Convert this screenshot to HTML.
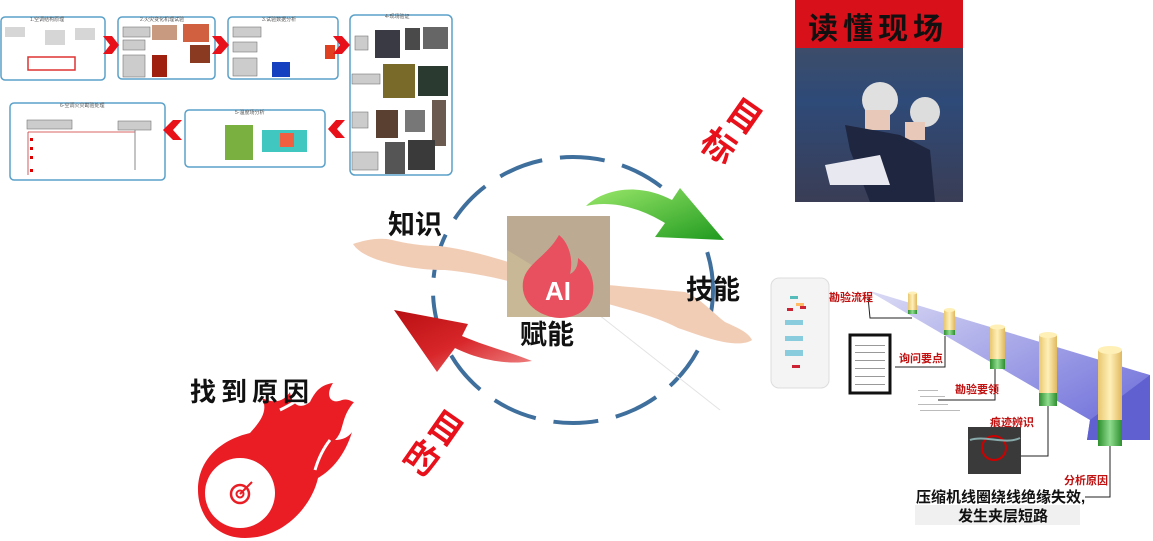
<!DOCTYPE html>
<html><head><meta charset="utf-8"><style>
html,body{margin:0;padding:0;background:#fff;}
body{width:1153px;height:541px;overflow:hidden;position:relative;font-family:"Liberation Sans","Noto Sans CJK SC",sans-serif;}
.t{position:absolute;font-weight:bold;font-family:"Liberation Sans","Noto Sans CJK SC",sans-serif;white-space:nowrap;}
.r{position:absolute;font-weight:bold;font-family:"Liberation Sans","Noto Sans CJK SC",sans-serif;font-size:34px;line-height:34px;width:34px;height:34px;text-align:center;color:#e8101a;transform:rotate(35deg);}
</style></head><body>
<svg width="1153" height="541" viewBox="0 0 1153 541" xmlns="http://www.w3.org/2000/svg" style="position:absolute;left:0;top:0">
<defs>
<linearGradient id="gg" x1="0" y1="0" x2="1" y2="1"><stop offset="0" stop-color="#9be86a"/><stop offset="1" stop-color="#1f9a1f"/></linearGradient>
<linearGradient id="rg" x1="1" y1="1" x2="0" y2="0"><stop offset="0" stop-color="#f08a8a"/><stop offset=".5" stop-color="#d8262a"/><stop offset="1" stop-color="#b80f12"/></linearGradient>
<linearGradient id="pg" x1="0" y1="0" x2="1" y2="1"><stop offset="0" stop-color="#dcdcf5"/><stop offset="1" stop-color="#6464d8"/></linearGradient>
<linearGradient id="cy" x1="0" x2="1"><stop offset="0" stop-color="#e8c770"/><stop offset=".5" stop-color="#fff0b8"/><stop offset="1" stop-color="#e0b860"/></linearGradient>
<linearGradient id="cg" x1="0" x2="1"><stop offset="0" stop-color="#2e8f2e"/><stop offset=".5" stop-color="#8fdc8f"/><stop offset="1" stop-color="#2e8f2e"/></linearGradient>
<linearGradient id="ph" x1="0" y1="0" x2="0" y2="1"><stop offset="0" stop-color="#4a4f5c"/><stop offset=".5" stop-color="#2e4a78"/><stop offset="1" stop-color="#3a3d55"/></linearGradient>
</defs>
<g fill="#fff" stroke="#5aa0c8" stroke-width="1.5">
<rect x="1" y="17" width="104" height="63" rx="4"/>
<rect x="118" y="17" width="97" height="62" rx="4"/>
<rect x="228" y="17" width="110" height="62" rx="4"/>
<rect x="350" y="15" width="102" height="160" rx="5"/>
<rect x="10" y="103" width="155" height="77" rx="4"/>
<rect x="185" y="110" width="140" height="57" rx="4"/>
</g>
<g fill="#555" font-size="5" font-family="Liberation Sans, Noto Sans CJK SC, sans-serif">
<text x="30" y="21">1.空调结构原理</text><text x="140" y="21">2.火灾变化机理试验</text><text x="262" y="21">3.试验数据分析</text>
<text x="385" y="18">4-现场验证</text><text x="60" y="107">6-空调火灾勘验处理</text><text x="235" y="114">5-温度场分析</text>
</g>
<g fill="#ccc" stroke="#777" stroke-width=".6">
<rect x="123" y="27" width="27" height="10"/><rect x="123" y="40" width="22" height="10"/><rect x="123" y="55" width="22" height="22"/>
<rect x="233" y="27" width="28" height="10"/><rect x="233" y="42" width="24" height="10"/><rect x="233" y="58" width="24" height="18"/>
<rect x="355" y="36" width="13" height="14"/><rect x="352" y="74" width="28" height="10"/><rect x="352" y="112" width="16" height="16"/><rect x="352" y="152" width="26" height="18"/>
<rect x="27" y="120" width="45" height="9"/><rect x="118" y="121" width="33" height="9"/>
</g>
<g fill="#4a4a4a">
<rect x="375" y="30" width="25" height="28" fill="#3a3a44"/><rect x="405" y="28" width="15" height="22"/><rect x="423" y="27" width="25" height="22" fill="#666"/>
<rect x="383" y="64" width="32" height="34" fill="#7a6a2a"/><rect x="418" y="66" width="30" height="30" fill="#2a3a30"/>
<rect x="376" y="110" width="22" height="28" fill="#5a4030"/><rect x="405" y="110" width="20" height="22" fill="#777"/><rect x="432" y="100" width="14" height="46" fill="#6a5a50"/>
<rect x="385" y="142" width="20" height="32" fill="#555"/><rect x="408" y="140" width="27" height="30" fill="#3a3a3a"/>
<rect x="152" y="25" width="25" height="15" fill="#c89a80"/><rect x="183" y="24" width="26" height="18" fill="#d06040"/><rect x="190" y="45" width="20" height="18" fill="#8a3a20"/><rect x="152" y="55" width="15" height="22" fill="#a02010"/>
<rect x="272" y="62" width="18" height="15" fill="#1540c0"/><rect x="325" y="45" width="10" height="14" fill="#e04020"/>
<rect x="225" y="125" width="28" height="35" fill="#7ab040"/><rect x="262" y="130" width="45" height="22" fill="#40c8c0"/><rect x="280" y="133" width="14" height="14" fill="#f06040"/>
</g>
<g fill="#d00"><rect x="30" y="138" width="3" height="3"/><rect x="30" y="147" width="3" height="3"/><rect x="30" y="156" width="3" height="3"/><rect x="30" y="169" width="3" height="3"/></g>
<g stroke="#c33" stroke-width=".8"><line x1="28" y1="132" x2="135" y2="132"/><line x1="28" y1="132" x2="28" y2="175"/></g>
<line x1="135" y1="130" x2="135" y2="170" stroke="#888"/>
<g stroke="#d33" stroke-width="1.5" fill="none"><path d="M28 57 H75 V70 H28Z"/></g>
<g fill="#999"><rect x="5" y="27" width="20" height="10" opacity=".4"/><rect x="45" y="30" width="20" height="15" opacity=".4"/><rect x="75" y="28" width="20" height="12" opacity=".4"/></g>
<g fill="#e8111a">
<path d="M103 36 L112 36 L119 45 L112 54 L103 54 L110 45Z"/>
<path d="M212 36 L221 36 L229 45 L221 54 L212 54 L219 45Z"/>
<path d="M333 36 L342 36 L350 45 L342 54 L333 54 L340 45Z"/>
<path d="M345 120 L336 120 L328 129 L336 138 L345 138 L337 129Z"/>
<path d="M182 120 L173 120 L163 130 L173 140 L182 140 L173 130Z"/>
</g>
<ellipse cx="573" cy="290" rx="140" ry="133" fill="none" stroke="#3f6f9c" stroke-width="4" stroke-dasharray="45 18"/>
<path d="M353 244 C365 240 380 237 392 240 C405 243 420 246 440 246 C470 250 495 258 515 264 L512 282 C490 276 465 272 445 270 C420 270 400 266 385 262 C370 258 358 252 353 244Z" fill="#f2cdb6"/>
<path d="M608 285 C640 288 665 290 685 292 C700 298 712 312 725 322 C738 328 748 332 752 340 C745 345 730 344 715 340 C700 336 690 332 678 328 C660 318 630 310 608 304Z" fill="#f2cdb6"/>
<path d="M580 300 L720 410" stroke="#e3e3e3" stroke-width="1"/>
<rect x="507" y="216" width="103" height="101" fill="#bcab92"/>
<path d="M507 250 L540 270 L550 317 L507 317Z" fill="#c9b895"/>
<path d="M559 235 C545 260 520 265 523 290 C526 310 548 318 560 318 C580 318 596 305 593 283 C591 268 583 262 578 258 C578 268 574 272 570 274 C574 258 568 242 559 235Z" fill="#e8505f"/>
<text x="558" y="300" font-size="26" font-weight="bold" fill="#fff" text-anchor="middle" font-family="Liberation Sans, sans-serif">AI</text>
<path d="M586 206 C605 188 640 183 672 200 L680 188 L724 240 L655 237 L665 223 C640 208 612 200 586 206Z" fill="url(#gg)"/>
<path d="M532 361 C505 366 475 358 455 348 L437 372 L394 310 L468 324 L462 336 C485 346 510 352 532 361Z" fill="url(#rg)"/>
<path d="M245 538 C215 538 198 515 198 490 C198 460 220 440 250 433 C262 420 268 410 262 398 C276 405 285 400 290 392 C292 405 300 410 310 402 C315 392 320 385 333 383 C325 395 330 405 342 400 C348 398 352 402 354 402 C340 418 345 430 335 440 C345 440 350 435 352 432 C345 455 332 470 318 478 C312 505 285 538 245 538Z" fill="#ea1c24"/>
<circle cx="240" cy="493" r="35" fill="#fff"/>
<path d="M280 410 C290 405 300 400 305 392" stroke="#fff" stroke-width="3" fill="none"/>
<path d="M330 440 C322 450 318 460 315 470" stroke="#fff" stroke-width="3" fill="none"/>
<circle cx="240" cy="494" r="9" fill="none" stroke="#ea1c24" stroke-width="2.5"/>
<circle cx="240" cy="494" r="3.5" fill="none" stroke="#ea1c24" stroke-width="2"/>
<line x1="240" y1="494" x2="252" y2="482" stroke="#ea1c24" stroke-width="2"/>
<rect x="795" y="0" width="168" height="202" fill="url(#ph)"/>
<rect x="795" y="0" width="168" height="48" fill="#d8101a"/>
<circle cx="880" cy="100" r="18" fill="#e0e0e0"/><circle cx="925" cy="112" r="15" fill="#ddd"/>
<rect x="865" y="110" width="25" height="20" fill="#e8c8b8"/><rect x="905" y="122" width="20" height="18" fill="#e8c8b8"/>
<path d="M845 125 L900 135 L930 150 L935 202 L870 202 L850 150Z" fill="#1f2640"/>
<path d="M825 165 L880 155 L890 185 L830 185Z" fill="#e8e8f0"/>
<rect x="771" y="278" width="58" height="110" rx="8" fill="#f4f4f4" stroke="#ddd"/>
<g fill="#5bb"><rect x="790" y="296" width="8" height="3"/><rect x="785" y="320" width="18" height="5" fill="#8cd"/><rect x="785" y="336" width="18" height="5" fill="#8cd"/><rect x="785" y="350" width="18" height="6" fill="#8cd"/></g>
<g fill="#c23"><rect x="787" y="308" width="6" height="3"/><rect x="800" y="306" width="6" height="3"/><rect x="792" y="365" width="8" height="3"/></g>
<rect x="796" y="303" width="8" height="3" fill="#fb6"/>
<path d="M867 290 L1150 375 L1140 440 L1087 440 L1090 420 L867 290Z" fill="url(#pg)"/>
<path d="M1090 420 L1150 375 L1150 440 L1087 440Z" fill="#6060d0"/>
<g stroke="#222" stroke-width="1" fill="none">
<path d="M868 297 L870 318 L912 318"/>
<path d="M895 367 L945 367 L945 336"/>
<path d="M938 400 L995 400 L995 368"/>
<path d="M1000 456 L1048 456 L1048 405"/>
<path d="M1085 497 L1110 497 L1110 445"/>
</g>
<g>
<rect x="908" y="293" width="9" height="20" fill="url(#cy)"/><rect x="908" y="310" width="9" height="4" fill="url(#cg)"/>
<rect x="944" y="310" width="11" height="25" fill="url(#cy)"/><rect x="944" y="330" width="11" height="5" fill="url(#cg)"/>
<rect x="990" y="327" width="15" height="42" fill="url(#cy)"/><rect x="990" y="359" width="15" height="10" fill="url(#cg)"/>
<rect x="1039" y="335" width="18" height="70" fill="url(#cy)"/><rect x="1039" y="393" width="18" height="13" fill="url(#cg)"/>
<rect x="1098" y="350" width="24" height="96" fill="url(#cy)"/><rect x="1098" y="420" width="24" height="26" fill="url(#cg)"/>
<ellipse cx="912.5" cy="293" rx="4.5" ry="1.5" fill="#fff0b8"/><ellipse cx="949.5" cy="310" rx="5.5" ry="2" fill="#fff0b8"/>
<ellipse cx="997.5" cy="327" rx="7.5" ry="2.5" fill="#fff0b8"/><ellipse cx="1048" cy="335" rx="9" ry="3" fill="#fff0b8"/><ellipse cx="1110" cy="350" rx="12" ry="4" fill="#fff0b8"/>
</g>
<rect x="850" y="335" width="40" height="58" fill="#fff" stroke="#111" stroke-width="3"/>
<g fill="#999"><rect x="855" y="345" width="30" height="1"/><rect x="855" y="352" width="30" height="1"/><rect x="855" y="360" width="30" height="1"/><rect x="855" y="368" width="30" height="1"/><rect x="855" y="376" width="30" height="1"/><rect x="855" y="384" width="30" height="1"/></g>
<g fill="#bbb"><rect x="918" y="390" width="20" height="1"/><rect x="920" y="396" width="25" height="1"/><rect x="918" y="404" width="30" height="1"/><rect x="920" y="410" width="40" height="1"/></g>
<rect x="968" y="427" width="53" height="47" fill="#3a3a3a"/>
<circle cx="994" cy="448" r="12" fill="none" stroke="#c00" stroke-width="2"/>
<path d="M970 440 C985 435 1005 445 1020 438" stroke="#8aa" stroke-width="2" fill="none"/>
<rect x="915" y="505" width="165" height="20" fill="#f0f0f0"/>
</svg>
<div class="t" style="left:388px;top:203px;font-size:27px;color:#111">知识</div>
<div class="t" style="left:686px;top:268px;font-size:27px;color:#111">技能</div>
<div class="t" style="left:520px;top:313px;font-size:27px;color:#111">赋能</div>
<div class="t" style="left:190px;top:372px;font-size:26px;color:#111;letter-spacing:5px">找到原因</div>
<div class="t" style="left:808px;top:4px;font-size:30px;color:#111;letter-spacing:5px">读懂现场</div>
<div class="r" style="left:727px;top:100px">目</div>
<div class="r" style="left:701px;top:130px">标</div>
<div class="r" style="left:428px;top:412px">目</div>
<div class="r" style="left:404px;top:442px">的</div>
<div class="t" style="left:829px;top:289px;font-size:11px;color:#c01010">勘验流程</div>
<div class="t" style="left:899px;top:350px;font-size:11px;color:#c01010">询问要点</div>
<div class="t" style="left:955px;top:381px;font-size:11px;color:#c01010">勘验要领</div>
<div class="t" style="left:990px;top:414px;font-size:11px;color:#c01010">痕迹辨识</div>
<div class="t" style="left:1064px;top:472px;font-size:11px;color:#c01010">分析原因</div>
<div class="t" style="left:916px;top:486px;font-size:15px;color:#111">压缩机线圈绕线绝缘失效,</div>
<div class="t" style="left:958px;top:505px;font-size:15px;color:#111">发生夹层短路</div>
</body></html>
